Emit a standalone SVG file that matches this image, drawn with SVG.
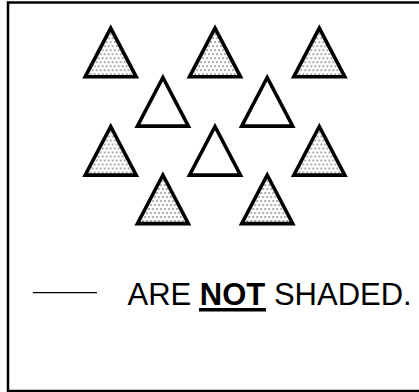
<svg xmlns="http://www.w3.org/2000/svg" width="419" height="392" viewBox="0 0 419 392">
<defs>
<pattern id="dots" patternUnits="userSpaceOnUse" width="4" height="8">
<rect width="4" height="8" fill="#fff"/>
<circle cx="2" cy="2" r="0.8" fill="#444"/>
<circle cx="0" cy="6" r="0.8" fill="#444"/>
<circle cx="4" cy="6" r="0.8" fill="#444"/>
</pattern>
<path id="tri" d="M0,0 L25.5,48.6 L-25.5,48.6 Z"/>
</defs>
<style>
.frame{fill:none;stroke:#000;stroke-width:2.5}
.sh{fill:url(#dots);stroke:#000;stroke-width:3.6;stroke-linejoin:miter}
.wh{fill:#fff;stroke:#000;stroke-width:3.6;stroke-linejoin:miter}
.txt{font-family:"Liberation Sans",Arial,sans-serif;font-size:31px;fill:#000}
</style>
<rect class="frame" x="8" y="2.5" width="430" height="388.5"/>
<g id="t1"><use href="#tri" class="sh" x="110.7" y="28.2"/></g>
<g id="t2"><use href="#tri" class="sh" x="215" y="28.2"/></g>
<g id="t3"><use href="#tri" class="sh" x="319.3" y="28.2"/></g>
<g id="t4"><use href="#tri" class="wh" x="162.9" y="77.5"/></g>
<g id="t5"><use href="#tri" class="wh" x="267.2" y="77.5"/></g>
<g id="t6"><use href="#tri" class="sh" x="110.7" y="126.5"/></g>
<g id="t7"><use href="#tri" class="wh" x="215" y="126.5"/></g>
<g id="t8"><use href="#tri" class="sh" x="319.3" y="126.5"/></g>
<g id="t9"><use href="#tri" class="sh" x="162.9" y="175"/></g>
<g id="t10"><use href="#tri" class="sh" x="267.2" y="175"/></g>
<g id="legend">
<line x1="33" y1="292.7" x2="97" y2="292.7" stroke="#000" stroke-width="1.3"/>
<text class="txt" x="127.5" y="305">ARE <tspan font-weight="bold">NOT</tspan> SHADED.</text>
<line x1="199" y1="309.7" x2="266" y2="309.7" stroke="#000" stroke-width="3.6"/>
</g>
</svg>
